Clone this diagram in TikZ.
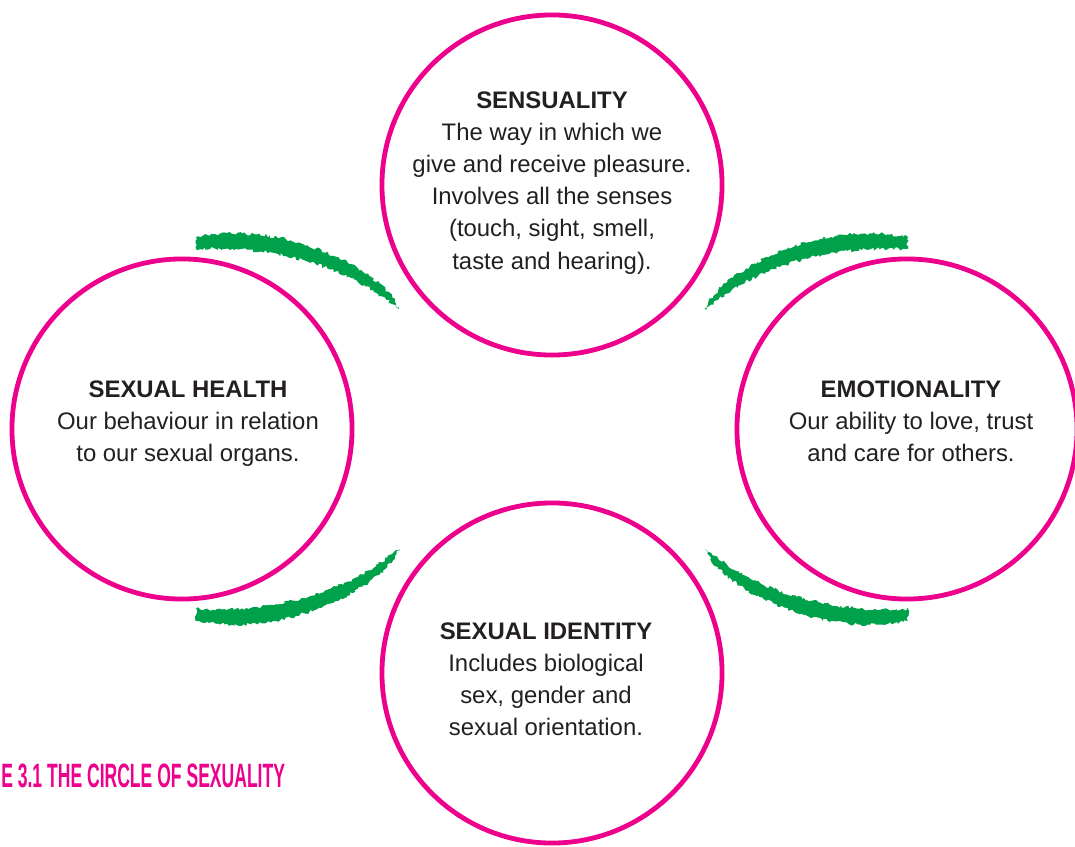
\documentclass[tikz,border=0pt]{standalone}
\usepackage{fontspec}
\setmainfont{Liberation Sans}
\usepackage{graphicx}
\usetikzlibrary{decorations.pathmorphing}
\definecolor{ringpink}{RGB}{236,0,140}
\definecolor{brushgreen}{RGB}{0,161,75}
\definecolor{inktext}{RGB}{35,31,32}

\begin{document}
\begin{tikzpicture}[
  x=0.025cm, y=-0.025cm,
  ring/.style={circle, minimum size=8.5cm, inner sep=0pt, draw=ringpink,
    line width=0.12cm},
  ringtext/.style={align=center, text=inktext,
    font=\fontsize{17}{22.8}\selectfont},
  brush/.style={fill=brushgreen, decorate,
    decoration={random steps, segment length=1.5pt, amplitude=1.2pt}},
  caption/.style={text=ringpink, inner sep=0pt,
    font=\bfseries\fontsize{24}{26}\selectfont}
]
\pgfmathsetseed{7}
\useasboundingbox (0,0) rectangle (1075,846);

\node[ring] (sens) at (552,185) {};
\node[ring] (health) at (182,429) {};
\node[ring] (emo) at (907,429) {};
\node[ring] (ident) at (552,673) {};

\node[ringtext] (sens text) at (552,183)
  {\textbf{SENSUALITY}\\The way in which we\\give and receive pleasure.\\
   Involves all the senses\\(touch, sight, smell,\\taste and hearing).};
\node[ringtext] (health text) at (188,424)
  {\textbf{SEXUAL HEALTH}\\Our behaviour in relation\\to our sexual organs.};
\node[ringtext] (emo text) at (911,421)
  {\textbf{EMOTIONALITY}\\Our ability to love, trust\\and care for others.};
\node[ringtext] (ident text) at (546,679)
  {\textbf{SEXUAL IDENTITY}\\Includes biological\\sex, gender and\\sexual orientation.};

% green brush strokes, mirrored round the middle
\coordinate (mid) at (552,429);
\foreach \sx/\sy in {1/1,-1/1,1/-1,-1/-1} {
  \begin{scope}[shift={(mid)}, xscale=\sx, yscale=\sy]
    \fill[brush] (-356,-192) .. controls (-310,-200) and (-260,-195) .. (-205,-167)
      .. controls (-180,-152) and (-162,-140) .. (-153,-120)
      .. controls (-175,-137) and (-195,-150) .. (-222,-160)
      .. controls (-270,-178) and (-310,-182) .. (-356,-180) -- cycle;
  \end{scope}
}

\node[caption, anchor=west] (fig caption) at (1,776)
  {\scalebox{0.52}[1]{E 3.1 THE CIRCLE OF SEXUALITY}};
\end{tikzpicture}
\end{document}
